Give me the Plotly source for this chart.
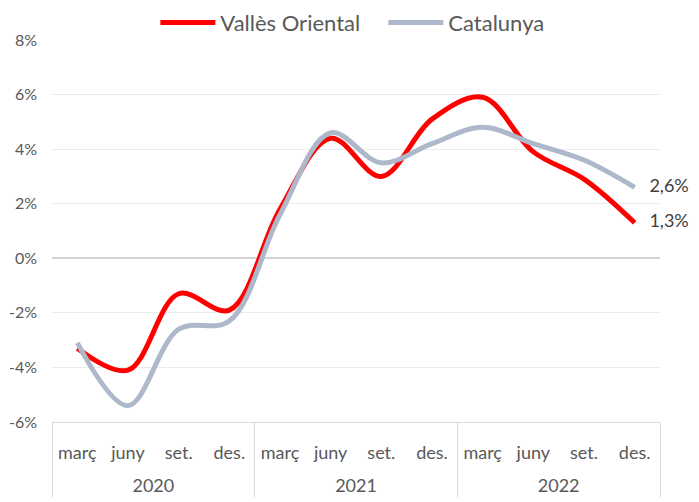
import plotly.graph_objects as go

years = ["2020"] * 4 + ["2021"] * 4 + ["2022"] * 4
quarters = ["març", "juny", "set.", "des."] * 3
valles = [-3.3, -4.1, -1.3, -1.9, 1.8, 4.4, 3.0, 5.1, 5.9, 3.9, 2.9, 1.3]
catalunya = [-3.1, -5.4, -2.6, -2.3, 1.6, 4.6, 3.5, 4.2, 4.8, 4.2, 3.6, 2.6]
end_labels_v = [""] * 11 + ["1,3%"]
end_labels_c = [""] * 11 + ["2,6%"]
y_tickvals = [-6, -4, -2, 0, 2, 4, 6, 8]
y_ticktext = ["-6%", "-4%", "-2%", "0%", "2%", "4%", "6%", "8%"]

# year labels get a leading line break so they sit lower, as in the reference
year_labels = ["<br>" + y for y in years]
n = len(quarters)
end_marker = [0] * (n - 1) + [22]

FONT = "Lato"
fig = go.Figure()
for name, vals, labels, color in [
    ("Vallès Oriental", valles, end_labels_v, "#ff0000"),
    ("Catalunya", catalunya, end_labels_c, "#adb9ca"),
]:
    fig.add_trace(go.Scatter(
        x=[year_labels, quarters], y=vals, name=name,
        mode="lines+markers+text", text=labels, textposition="middle right",
        textfont=dict(size=18, color="#404040", family=FONT),
        marker=dict(size=end_marker, color="rgba(0,0,0,0)", line=dict(width=0)),
        line=dict(color=color, width=5, shape="spline", smoothing=1.0),
        cliponaxis=False,
    ))
fig.update_layout(
    width=691, height=494,
    margin=dict(l=44, r=39, t=32, b=80, autoexpand=False),
    paper_bgcolor="white", plot_bgcolor="white",
    font=dict(family=FONT, color="#595959", size=16),
    showlegend=True,
    legend=dict(orientation="h", x=0.17, xanchor="left", y=1.1, yanchor="top",
                font=dict(size=22, color="#595959"), itemwidth=55, tracegroupgap=0,
                entrywidth=158),
    xaxis=dict(type="multicategory", range=[-0.5, n - 0.5], autorange=False,
               showgrid=False, showline=True, linecolor="#d9d9d9",
               showdividers=True, dividercolor="#d9d9d9", dividerwidth=1,
               tickfont=dict(size=18, color="#595959"), ticks="", automargin=False,
               ticklabelstandoff=14),
    yaxis=dict(range=[-6, 8], tickvals=y_tickvals, ticktext=y_ticktext,
               showgrid=True, gridcolor="#ececec",
               zeroline=True, zerolinecolor="#d4d4d4", zerolinewidth=1.5, automargin=False,
               tickfont=dict(size=16, color="#595959"), ticklabelstandoff=14),
)
fig.write_html("out.html")
